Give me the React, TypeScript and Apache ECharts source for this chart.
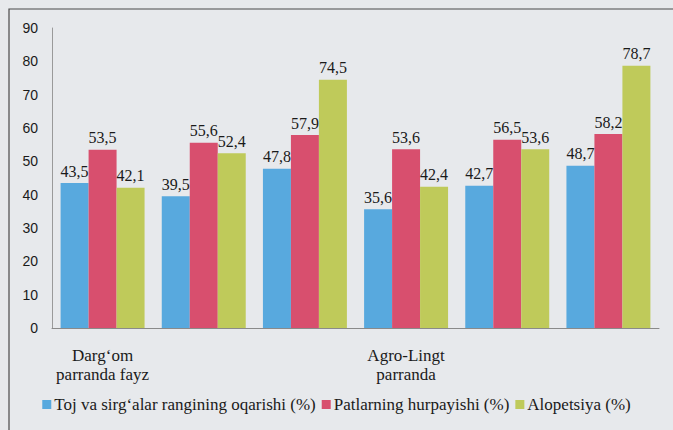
import React, { useEffect, useRef } from "react";
import * as echarts from "echarts";

const categories = ["Darg‘om\nparranda fayz", "", "", "Agro-Lingt\nparranda", "", ""];
const seriesNames = [
  "Toj va sirg‘alar rangining oqarishi (%)",
  "Patlarning hurpayishi (%)",
  "Alopetsiya (%)",
];
const tojValues = [43.5, 39.5, 47.8, 35.6, 42.7, 48.7];
const patlarValues = [53.5, 55.6, 57.9, 53.6, 56.5, 58.2];
const alopValues = [42.1, 52.4, 74.5, 42.4, 53.6, 78.7];
const colors = ["#58a9de", "#d84f6e", "#bfca5a"];

export default function App() {
  const ref = useRef<HTMLDivElement>(null);
  useEffect(() => {
    if (!ref.current) return;
    const chart = echarts.init(ref.current, null, { renderer: "svg" });
    const serif = "Liberation Serif";
    const mk = (name: string, data: number[], color: string) => ({
      type: "bar",
      name,
      data,
      barGap: "0%",
      barCategoryGap: "17%",
      itemStyle: { color },
      label: {
        show: true,
        position: "top",
        distance: 4,
        fontFamily: serif,
        fontSize: 16,
        color: "#1a1a1a",
        formatter: (p: any) => String(p.value).replace(".", ","),
      },
    });
    chart.setOption({
      animation: false,
      backgroundColor: "#e7e9ec",
      graphic: [
        {
          type: "rect",
          shape: { x: 9, y: 9, width: 700, height: 460 },
          style: { fill: "none", stroke: "#4a4a4a", lineWidth: 1.2 },
          silent: true,
        },
      ],
      grid: { left: 52, right: 14, top: 28, bottom: 102 },
      legend: {
        bottom: 12,
        left: "center",
        itemWidth: 9,
        itemHeight: 9,
        itemGap: 6,
        icon: "rect",
        textStyle: { fontFamily: serif, fontSize: 17, color: "#1a1a1a", padding: [0, 0, 0, -2] },
        data: seriesNames,
      },
      xAxis: {
        type: "category",
        data: categories,
        axisLine: { show: true, lineStyle: { color: "#8a8a8a", width: 1 } },
        axisTick: { show: false },
        axisLabel: {
          interval: 0,
          margin: 18,
          fontFamily: serif,
          fontSize: 17,
          lineHeight: 19,
          color: "#1a1a1a",
        },
      },
      yAxis: {
        type: "value",
        min: 0,
        max: 90,
        interval: 10,
        axisLine: { show: true, lineStyle: { color: "#9a9a9a", width: 1 } },
        axisTick: { show: false },
        splitLine: { show: false },
        axisLabel: {
          fontFamily: "Liberation Sans",
          fontSize: 14,
          color: "#1a1a1a",
          margin: 14,
        },
      },
      series: [
        mk(seriesNames[0], tojValues, colors[0]),
        mk(seriesNames[1], patlarValues, colors[1]),
        mk(seriesNames[2], alopValues, colors[2]),
      ],
    });
    return () => chart.dispose();
  }, []);
  return (
    <div
      ref={ref}
      style={{ position: "fixed", left: 0, top: 0, width: 673, height: 430 }}
    />
  );
}
